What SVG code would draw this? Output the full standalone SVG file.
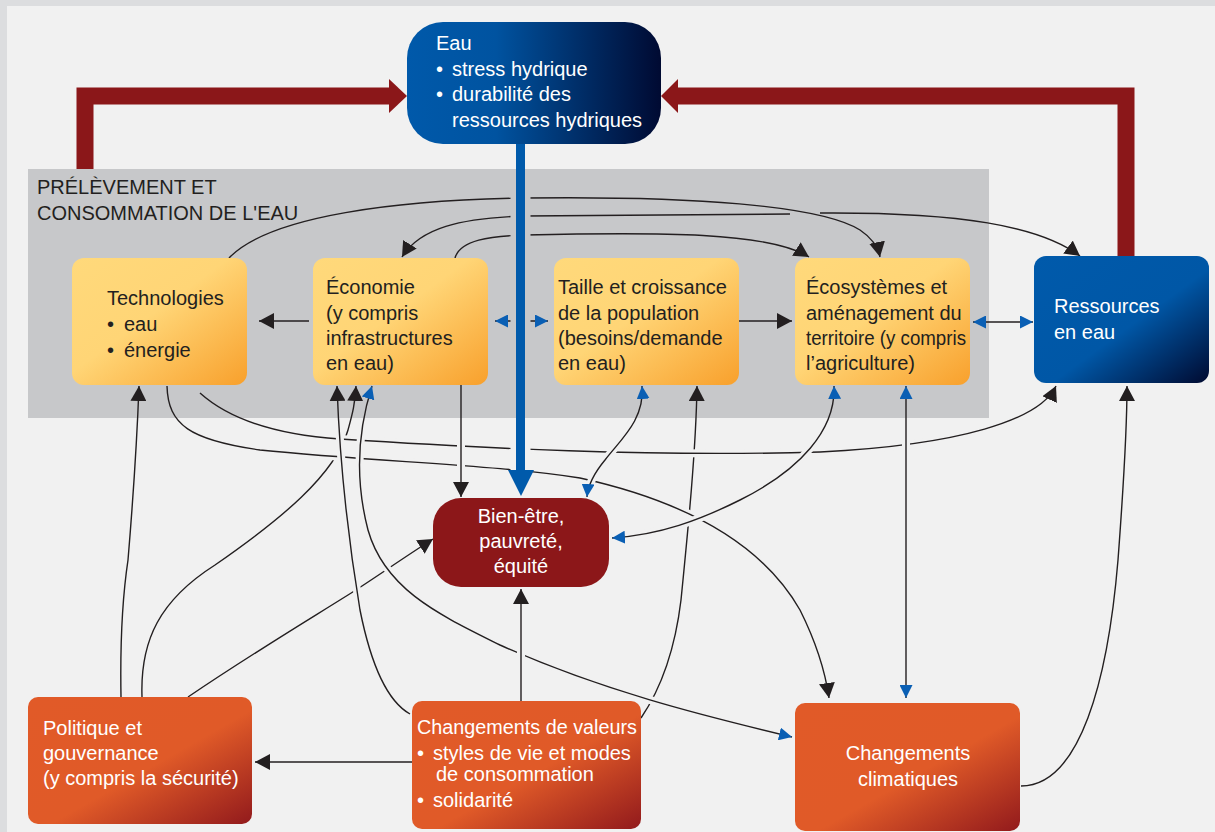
<svg xmlns="http://www.w3.org/2000/svg" width="1215" height="832" viewBox="0 0 1215 832">
<defs>
<linearGradient id="gy" x1="0" y1="0" x2="1" y2="1"><stop offset="0" stop-color="#ffd97b"/><stop offset="0.45" stop-color="#ffd576"/><stop offset="1" stop-color="#f8a02c"/></linearGradient>
<linearGradient id="go" x1="0" y1="0" x2="1" y2="1"><stop offset="0" stop-color="#e15a28"/><stop offset="0.55" stop-color="#e05a28"/><stop offset="1" stop-color="#921a1c"/></linearGradient>
<linearGradient id="gb" x1="0" y1="0" x2="1" y2="0"><stop offset="0" stop-color="#0059aa"/><stop offset="0.35" stop-color="#0053a0"/><stop offset="1" stop-color="#000a32"/></linearGradient>
<linearGradient id="gr" x1="0" y1="0" x2="1" y2="1"><stop offset="0" stop-color="#005aab"/><stop offset="0.55" stop-color="#0057a6"/><stop offset="1" stop-color="#000a30"/></linearGradient>
<marker id="ab" viewBox="0 0 15 16" refX="15" refY="8" markerWidth="15" markerHeight="16" markerUnits="userSpaceOnUse" orient="auto-start-reverse"><path d="M0,0 L15,8 L0,16 z" fill="#231f20"/></marker>
<marker id="au" viewBox="0 0 13 13" refX="13" refY="6.5" markerWidth="13" markerHeight="13" markerUnits="userSpaceOnUse" orient="auto-start-reverse"><path d="M0,0 L13,6.5 L0,13 z" fill="#0a5fb4"/></marker>
<clipPath id="below"><rect x="0" y="419" width="1215" height="413"/></clipPath>
<style>
.t{font-family:"Liberation Sans",Arial,sans-serif;font-size:20px;fill:#231f20}
.w{fill:#ffffff}
.c{fill:none;stroke:#231f20;stroke-width:1.4}
.h{fill:none;stroke:#f1f1f1;stroke-width:8}
.k{marker-end:url(#ab)}
.kk{marker-start:url(#ab);marker-end:url(#ab)}
.bb{marker-start:url(#au);marker-end:url(#au)}
.red{fill:none;stroke:#8b1719;stroke-width:17}
</style>
</defs>
<rect x="0" y="0" width="1215" height="832" fill="#dcdddf"/>
<rect x="7" y="6" width="1208" height="826" fill="#f1f1f1"/>
<g id="zone">
<rect x="28" y="169" width="961" height="249" fill="#c7c8ca"/>
<text class="t" x="37" y="194" font-size="19.5">PRÉLÈVEMENT ET</text>
<text class="t" x="37" y="220" font-size="19.5">CONSOMMATION DE L'EAU</text>
</g>
<g id="connectors">
<path class="c kk" d="M402,257 C420,228 460,218 525,216 L790,214 M820,213 C960,212 1040,226 1080,256"/>
<path class="c k" d="M455,258 C460,240 490,236 525,235 C660,232 770,232 809,257"/>
<path class="c k" d="M229,258 C270,215 400,200 525,198 C690,196 820,205 860,230 C872,238 878,247 880,257"/>
<path class="c k" d="M309,321 L259,321"/>
<path class="c bb" d="M495,321 L548,321"/>
<path class="c k" d="M739,321 L792,321"/>
<path class="c bb" d="M973,322 L1033,322"/>
<path class="c k" d="M121,697 C120,640 122,600 128,560 C133,500 137,440 139,386"/>
<path class="c k" d="M188,697 C250,655 300,625 348,595 C375,578 400,560 433,539"/>
<path class="c k" d="M142,697 C140,640 160,600 215,565 C280,520 335,475 348,430 C352,415 355,405 356,386"/>
<path class="c k" d="M641,718 C660,690 675,650 681,600 C688,530 696,450 697,386"/>
<path class="h" clip-path="url(#below)" d="M200,393 C230,420 280,435 340,439 C480,448 650,457 820,452 C960,445 1040,420 1056,386"/>
<path class="c k" d="M200,393 C230,420 280,435 340,439 C480,448 650,457 820,452 C960,445 1040,420 1056,386"/>
<path class="h" clip-path="url(#below)" d="M167,386 C168,425 190,440 260,450 C380,462 500,465 580,478 C680,500 760,540 800,610 C815,640 825,670 829,698"/>
<path class="c k" d="M167,386 C168,425 190,440 260,450 C380,462 500,465 580,478 C680,500 760,540 800,610 C815,640 825,670 829,698"/>
<path class="h" clip-path="url(#below)" d="M410,714 C385,700 370,660 360,610 C350,550 340,470 337,386"/>
<path class="c k" d="M410,714 C385,700 370,660 360,610 C350,550 340,470 337,386"/>
<path class="h" clip-path="url(#below)" d="M372,386 C358,430 355,480 368,530 C385,590 440,615 500,645 C600,690 700,715 792,737"/>
<path class="c bb" d="M372,386 C358,430 355,480 368,530 C385,590 440,615 500,645 C600,690 700,715 792,737"/>
<path class="h" clip-path="url(#below)" d="M461,385 L461,497"/>
<path class="c k" d="M461,385 L461,497"/>
<path class="h" clip-path="url(#below)" d="M642,386 C645,420 620,440 605,460 C595,472 588,485 587,497"/>
<path class="c bb" d="M642,386 C645,420 620,440 605,460 C595,472 588,485 587,497"/>
<path class="h" clip-path="url(#below)" d="M834,386 C836,430 800,470 740,500 C700,520 660,535 612,538"/>
<path class="c bb" d="M834,386 C836,430 800,470 740,500 C700,520 660,535 612,538"/>
<path class="h" clip-path="url(#below)" d="M906,386 L906,698"/>
<path class="c bb" d="M906,386 L906,698"/>
<path class="h" clip-path="url(#below)" d="M521,701 L521,589"/>
<path class="c k" d="M521,701 L521,589"/>
<path class="c k" d="M412,762 L255,762"/>
<path class="c k" d="M1021,786 C1080,786 1108,680 1118,560 C1124,480 1127,430 1127,386"/>
<path d="M520.5,169 L520.5,418" stroke="#c7c8ca" stroke-width="20" fill="none"/>
<path d="M520.5,418 L520.5,470" stroke="#f1f1f1" stroke-width="20" fill="none"/>
<path d="M520.5,140 L520.5,474" stroke="#005aab" stroke-width="9" fill="none"/>
<polygon points="508,470 534,470 521,496" fill="#005aab"/>
<path class="red" d="M85,169 L85,96 L390,96"/>
<polygon points="389,79 407,96 389,113" fill="#8b1719"/>
<path class="red" d="M1126,257 L1126,96 L678,96"/>
<polygon points="678,79 661,96 678,113" fill="#8b1719"/>
</g>
<g id="eau">
<rect x="407" y="22" width="254" height="122" rx="36" fill="url(#gb)"/>
<text class="t w" x="436" y="50">Eau</text>
<text class="t w"><tspan x="436" y="76">•</tspan><tspan x="452" y="76">stress hydrique</tspan></text>
<text class="t w"><tspan x="436" y="101">•</tspan><tspan x="452" y="101">durabilité des</tspan></text>
<text class="t w" x="452" y="127">ressources hydriques</text>
</g>
<g id="technologies">
<rect x="72" y="258" width="175" height="127" rx="12" fill="url(#gy)"/>
<text class="t" x="107" y="305">Technologies</text>
<text class="t"><tspan x="107" y="331">•</tspan><tspan x="124" y="331">eau</tspan></text>
<text class="t"><tspan x="107" y="357">•</tspan><tspan x="124" y="357">énergie</tspan></text>
</g>
<g id="economie">
<rect x="313" y="258" width="175" height="127" rx="12" fill="url(#gy)"/>
<text class="t" x="326" y="294">Économie</text>
<text class="t" x="326" y="320">(y compris</text>
<text class="t" x="326" y="345">infrastructures</text>
<text class="t" x="326" y="370">en eau)</text>
</g>
<g id="population">
<rect x="554" y="258" width="185" height="127" rx="12" fill="url(#gy)"/>
<text class="t" x="558" y="294">Taille et croissance</text>
<text class="t" x="558" y="320">de la population</text>
<text class="t" x="558" y="345">(besoins/demande</text>
<text class="t" x="558" y="370">en eau)</text>
</g>
<g id="ecosystemes">
<rect x="795" y="258" width="175" height="127" rx="12" fill="url(#gy)"/>
<text class="t" x="806" y="294">Écosystèmes et</text>
<text class="t" x="806" y="320">aménagement du</text>
<text class="t" x="806" y="345" textLength="160" lengthAdjust="spacingAndGlyphs">territoire (y compris</text>
<text class="t" x="806" y="370">l’agriculture)</text>
</g>
<g id="ressources">
<rect x="1034" y="256" width="175" height="127" rx="12" fill="url(#gr)"/>
<text class="t w" x="1054" y="313">Ressources</text>
<text class="t w" x="1054" y="339">en eau</text>
</g>
<g id="bienetre">
<rect x="433" y="498" width="176" height="89" rx="28" fill="#8c1719"/>
<text class="t w" x="521" y="523" text-anchor="middle">Bien-être,</text>
<text class="t w" x="521" y="548" text-anchor="middle">pauvreté,</text>
<text class="t w" x="521" y="573" text-anchor="middle">équité</text>
</g>
<g id="politique">
<rect x="28" y="697" width="224" height="127" rx="10" fill="url(#go)"/>
<text class="t w" x="43" y="735">Politique et</text>
<text class="t w" x="43" y="760">gouvernance</text>
<text class="t w" x="43" y="785">(y compris la sécurité)</text>
</g>
<g id="valeurs">
<rect x="412" y="701" width="229" height="128" rx="10" fill="url(#go)"/>
<text class="t w" x="417" y="734" textLength="220" lengthAdjust="spacingAndGlyphs">Changements de valeurs</text>
<text class="t w"><tspan x="417" y="760">•</tspan><tspan x="433" y="760">styles de vie et modes</tspan></text>
<text class="t w" x="436" y="781">de consommation</text>
<text class="t w"><tspan x="417" y="807">•</tspan><tspan x="433" y="807">solidarité</tspan></text>
</g>
<g id="climat">
<rect x="795" y="703" width="225" height="128" rx="10" fill="url(#go)"/>
<text class="t w" x="908" y="760" text-anchor="middle">Changements</text>
<text class="t w" x="908" y="786" text-anchor="middle">climatiques</text>
</g>
</svg>
